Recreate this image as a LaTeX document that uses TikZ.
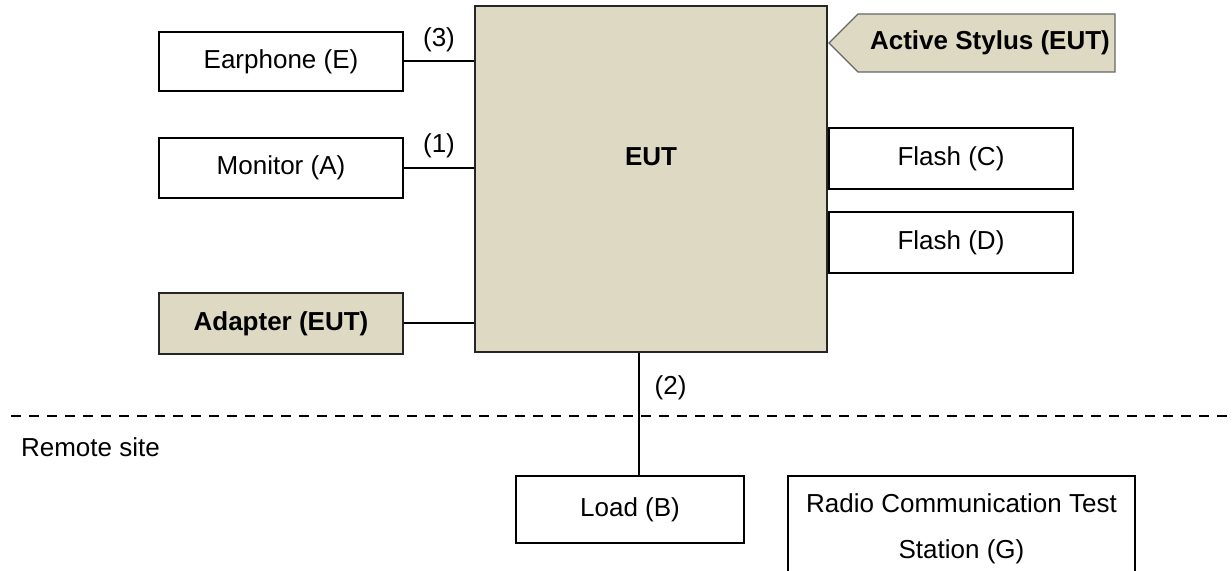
\documentclass[tikz,border=0pt]{standalone}
\usepackage{fontspec}
\setmainfont{Liberation Sans}
\usetikzlibrary{positioning}
\definecolor{eutbeige}{HTML}{DDD9C3}

\begin{document}
\begin{tikzpicture}[x=0.5pt, y=-0.5pt,
        every node/.style={font=\fontsize{13}{15.6}\selectfont},
        device/.style={rectangle, draw=black, line width=1pt, fill=white, inner sep=0pt, minimum width=122pt, minimum height=30pt},
        eutpart/.style={device, fill=eutbeige, draw=black!85, font=\fontsize{13}{15.6}\selectfont\bfseries},
        cable/.style={draw=black, line width=1pt},
        node distance=22.5pt
        ]
    \useasboundingbox (0,0) rectangle (1232,571);

    % the EUT itself
    \node[eutpart, minimum width=176pt, minimum height=173pt] (eut) at (651,179) {};
    \node[font=\fontsize{13}{15.6}\selectfont\bfseries] (euttitle) at (651,157) {EUT};

    % devices on the left
    \node[device, minimum height=29.5pt] (earphone) at (281,61.5) {Earphone (E)};
    \node[device, below=of earphone] (monitor) {Monitor (A)};
    \node[eutpart, below=46.5pt of monitor, minimum height=30.5pt] (adapter) {Adapter (EUT)};

    % devices on the right
    \draw[fill=eutbeige, draw=black!60, line width=0.6pt]
        (829,43) -- (858,14) -- (1115,14) -- (1115,72) -- (858,72) -- cycle;
    \node[font=\fontsize{13}{15.6}\selectfont\bfseries] (stylus) at (990,43) {Active Stylus (EUT)};
    \node[device, anchor=west, minimum height=30.5pt] (flashc) at (eut.east |- 0,158.5) {Flash (C)};
    \node[device, below=10.5pt of flashc, minimum height=30.5pt] (flashd) {Flash (D)};

    % cables to the left devices
    \foreach \dev/\num in {earphone/(3), monitor/(1)} {
        \draw[cable] (\dev.east) -- node[above=1pt] {\num} (\dev.east -| eut.west);
    }
    \draw[cable] (adapter.east) -- (adapter.east -| eut.west);

    % remote site
    \coordinate (sitewest) at (11,416);
    \coordinate (siteeast) at (1232,416);
    \draw[line width=1pt, dash pattern=on 5pt off 4pt] (sitewest) -- (siteeast);
    \node[anchor=west] (remote) at (14,447) {Remote site};

    \node[device, minimum width=114pt, minimum height=33.5pt] (load) at (630,510) {Load (B)};
    \node[device, minimum width=173.5pt, minimum height=53pt, align=center,
          font=\fontsize{13}{23}\selectfont] (radio) at (961.5,529) {Radio Communication Test\\Station (G)};

    \coordinate (tap) at ([xshift=-6pt]eut.south);
    \draw[cable] (tap) -- node[pos=0.28, right=4pt] {(2)} (tap |- load.north);
\end{tikzpicture}
\end{document}
